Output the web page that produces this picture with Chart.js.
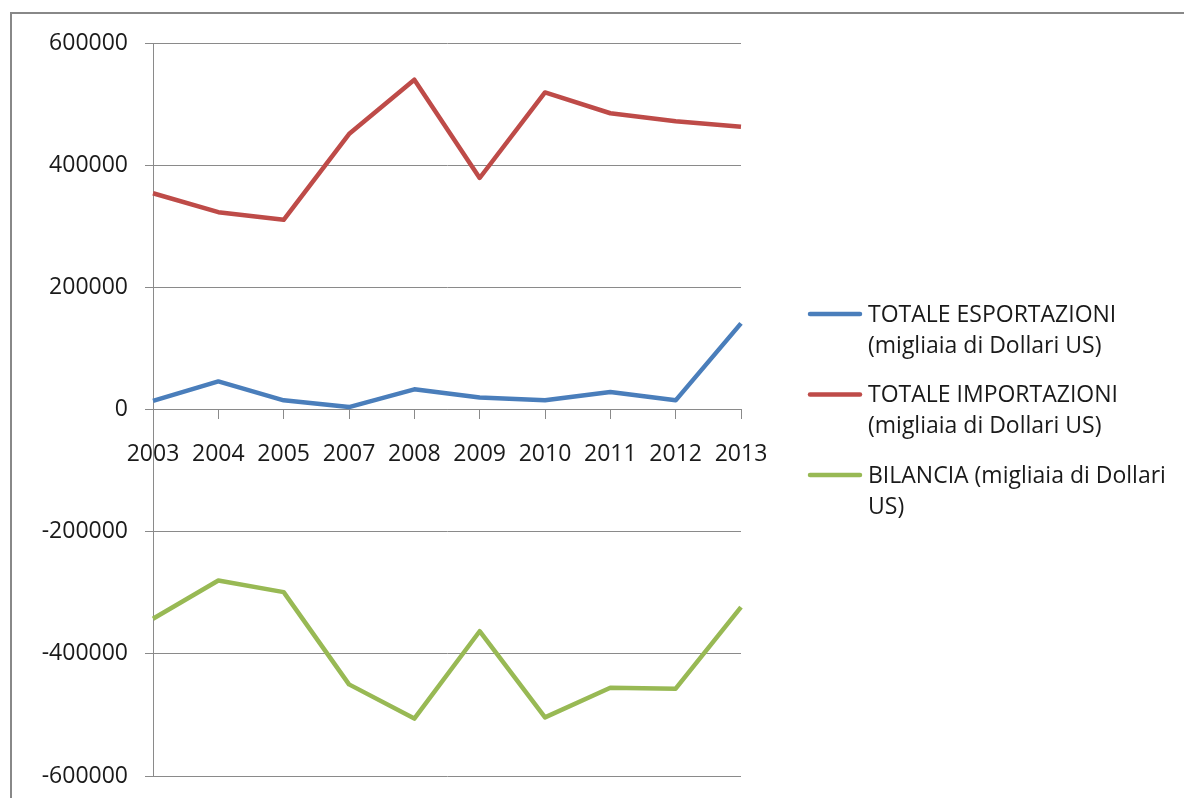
<!DOCTYPE html>
<html>
<head>
<meta charset="utf-8">
<script src="https://cdn.jsdelivr.net/npm/chart.js@4.4.1/dist/chart.umd.min.js"></script>
<style>
  html, body { margin: 0; padding: 0; background: #fff; overflow: hidden; }
  #frame { position: absolute; left: 10px; top: 12px; width: 1300px; height: 900px; border: 2px solid #888; }
  #wrap { position: absolute; left: 0; top: 0; width: 1184px; height: 798px; }
</style>
</head>
<body>
<div id="frame"></div>
<div id="wrap"><canvas id="tradeChart"></canvas></div>
<script>
// data
const years = ['2003', '2004', '2005', '2007', '2008', '2009', '2010', '2011', '2012', '2013'];
const esportazioni = [14000, 46000, 15000, 4000, 33000, 19500, 15000, 28500, 15000, 141000];
const importazioni = [354000, 323000, 310500, 451000, 540000, 379000, 519000, 485000, 472000, 463000];
const bilancia = [-342500, -280000, -299000, -450000, -506000, -363000, -504000, -455500, -457000, -323500];
const seriesLabels = [
    ['TOTALE ESPORTAZIONI', '(migliaia di Dollari US)'],
    ['TOTALE IMPORTAZIONI', '(migliaia di Dollari US)'],
    ['BILANCIA (migliaia di Dollari', 'US)']
];
const yTicks = [-600000, -400000, -200000, 0, 200000, 400000, 600000];

const seriesColors = ['#4a7ebb', '#be4b48', '#98b954'];
const gridColor = '#8a8a8a';
const textColor = '#1a1a1a';
const tickFont = { family: '"Open Sans", sans-serif', size: 23 };

// legend on the right, two lines per entry
const sideLegend = {
    id: 'sideLegend',
    afterDraw(chart) {
        const ctx = chart.ctx;
        const area = chart.chartArea;
        let y = 315;
        ctx.save();
        ctx.font = '23px "Open Sans", sans-serif';
        ctx.textBaseline = 'middle';
        chart.data.datasets.forEach((ds, i) => {
            ctx.strokeStyle = ds.borderColor;
            ctx.lineWidth = 4.5;
            ctx.lineCap = 'round';
            ctx.beginPath();
            ctx.moveTo(area.right + 69, y - 1);
            ctx.lineTo(area.right + 119, y - 1);
            ctx.stroke();
            ctx.fillStyle = textColor;
            seriesLabels[i].forEach((t, j) => ctx.fillText(t, area.right + 127, y + j * 31));
            y += 80.5;
        });
        ctx.restore();
    }
};

new Chart(document.getElementById('tradeChart'), {
    type: 'line',
    data: {
        labels: years,
        datasets: [
            { label: seriesLabels[0].join(' '), data: esportazioni, borderColor: seriesColors[0] },
            { label: seriesLabels[1].join(' '), data: importazioni, borderColor: seriesColors[1] },
            { label: seriesLabels[2].join(' '), data: bilancia, borderColor: seriesColors[2] }
        ]
    },
    options: {
        responsive: true,
        maintainAspectRatio: false,
        animation: false,
        layout: { padding: { top: 43, right: 443, bottom: 22, left: 0 } },
        elements: {
            line: { borderWidth: 4.5, tension: 0, borderJoinStyle: 'round' },
            point: { radius: 0, hoverRadius: 0 }
        },
        plugins: {
            legend: { display: false },
            tooltip: { enabled: false }
        },
        scales: {
            x: {
                type: 'category',
                position: { y: 0 },
                offset: false,
                grid: { drawOnChartArea: false, drawTicks: true, tickLength: 9, color: gridColor },
                border: { color: gridColor },
                ticks: { font: tickFont, color: textColor, padding: 22, maxRotation: 0, autoSkip: false },
                afterFit(scale) { scale.height = 0; }
            },
            y: {
                min: yTicks[0],
                max: yTicks[yTicks.length - 1],
                ticks: {
                    stepSize: yTicks[1] - yTicks[0],
                    font: tickFont,
                    color: textColor,
                    padding: 17,
                    callback: v => String(v)
                },
                grid: { color: gridColor, tickLength: 8 },
                border: { color: gridColor },
                afterFit(scale) {
                    scale.width = 153;
                    scale.paddingTop = 14;
                    scale.paddingBottom = 14;
                }
            }
        }
    },
    plugins: [sideLegend]
});
</script>
</body>
</html>
